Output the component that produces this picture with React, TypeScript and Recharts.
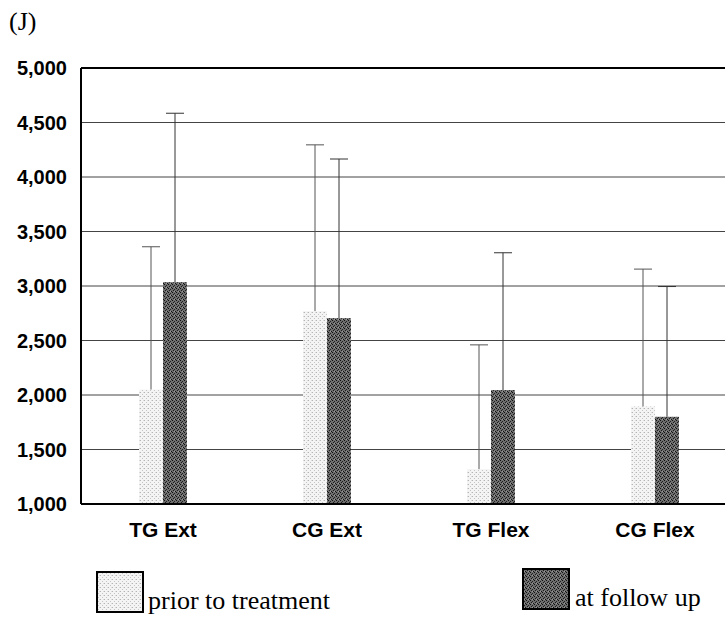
import { BarChart, Bar, XAxis, YAxis, CartesianGrid, ReferenceLine } from 'recharts'

const categories = ['TG Ext', 'CG Ext', 'TG Flex', 'CG Flex']
const priorValues = [2050, 2770, 1320, 1895]
const priorUpper = [3360, 4295, 2460, 3155]
const followUpValues = [3035, 2705, 2045, 1800]
const followUpUpper = [4585, 4165, 3305, 2995]
const yTicks = [1000, 1500, 2000, 2500, 3000, 3500, 4000, 4500, 5000]
const yMin = 1000

const data = categories.map((name, i) => ({
  name,
  prior: priorValues[i],
  priorUp: priorUpper[i],
  followUp: followUpValues[i],
  followUpUp: followUpUpper[i],
}))

const sans = "'Liberation Sans', Arial, sans-serif"
const serif = "'Liberation Serif', 'DejaVu Serif', serif"

function Patterns({ prefix }: { prefix: string }) {
  return (
    <defs>
      <pattern id={`${prefix}light`} width="4" height="4" patternUnits="userSpaceOnUse">
        <rect width="4" height="4" fill="#f4f4f4" />
        <rect x="0" y="0" width="1" height="1" fill="#b4b4b4" />
        <rect x="2" y="2" width="1" height="1" fill="#c4c4c4" />
        <rect x="3" y="0" width="1" height="1" fill="#dcdcdc" />
      </pattern>
      <pattern id={`${prefix}dark`} width="4" height="4" patternUnits="userSpaceOnUse">
        <rect width="4" height="4" fill="#6e6e6e" />
        <rect x="0" y="0" width="1" height="1" fill="#111" />
        <rect x="2" y="1" width="1" height="1" fill="#222" />
        <rect x="1" y="2" width="1" height="1" fill="#1a1a1a" />
        <rect x="3" y="3" width="1" height="1" fill="#111" />
        <rect x="2" y="3" width="1" height="1" fill="#9a9a9a" />
      </pattern>
    </defs>
  )
}

// bar plus an upper-only whisker; the whisker length uses the bar's own px/unit
function makeShape(valueKey: string, upperKey: string, fill: string, whisker: string) {
  return (props: any) => {
    const { x, y, width, height, payload } = props
    const value = payload[valueKey]
    const upper = payload[upperKey]
    const pxPerUnit = height / (value - yMin)
    const yTop = y - (upper - value) * pxPerUnit
    const cx = x + width / 2
    return (
      <g>
        <rect x={x} y={y} width={width} height={height} fill={fill} />
        <line x1={cx} y1={y} x2={cx} y2={yTop} stroke={whisker} strokeWidth={1} />
        <line x1={cx - 9} y1={yTop} x2={cx + 9} y2={yTop} stroke={whisker} strokeWidth={1} />
      </g>
    )
  }
}

function Swatch({ kind }: { kind: 'light' | 'dark' }) {
  return (
    <svg width="48" height="42" style={{ display: 'block' }}>
      <Patterns prefix="lg-" />
      <rect x="1" y="1" width="46" height="40" fill={`url(#lg-${kind})`} stroke="#000" strokeWidth="2" />
    </svg>
  )
}

export default function App() {
  return (
    <div style={{ position: 'absolute', left: 0, top: 0, width: 725, height: 617, overflow: 'hidden', background: '#fff' }}>
      <div style={{ position: 'absolute', left: 9, top: 7, fontFamily: serif, fontSize: 26, lineHeight: '30px' }}>(J)</div>

      <BarChart
        width={745}
        height={617}
        data={data}
        margin={{ top: 68, right: 8, left: 0, bottom: 73 }}
        barSize={24}
        barGap={0}
      >
        <Patterns prefix="" />
        <CartesianGrid vertical={false} stroke="#444" />
        <XAxis
          dataKey="name"
          height={40}
          axisLine={{ stroke: '#000', strokeWidth: 2 }}
          tickLine={false}
          tickSize={0}
          tickMargin={18}
          tick={{ fontFamily: sans, fontSize: 21, fontWeight: 'bold', fill: '#000' }}
        />
        <YAxis
          width={81}
          domain={[yMin, 5000]}
          ticks={yTicks}
          interval={0}
          axisLine={{ stroke: '#000', strokeWidth: 2 }}
          tickLine={false}
          tickSize={0}
          tickMargin={14}
          tickFormatter={v => Number(v).toLocaleString('en-US')}
          tick={{ fontFamily: sans, fontSize: 20, fontWeight: 'bold', fill: '#000' }}
        />
        <ReferenceLine y={5000} stroke="#000" strokeWidth={2} />
        <Bar dataKey="prior" isAnimationActive={false} shape={makeShape('prior', 'priorUp', 'url(#light)', '#555')} />
        <Bar dataKey="followUp" isAnimationActive={false} shape={makeShape('followUp', 'followUpUp', 'url(#dark)', '#333')} />
      </BarChart>

      <div style={{ position: 'absolute', left: 96, top: 571, display: 'flex', alignItems: 'flex-end' }}>
        <Swatch kind="light" />
        <span style={{ fontFamily: serif, fontSize: 26, lineHeight: '24px', marginLeft: 4 }}>prior to treatment</span>
      </div>
      <div style={{ position: 'absolute', left: 522, top: 568, display: 'flex', alignItems: 'flex-end' }}>
        <Swatch kind="dark" />
        <span style={{ fontFamily: serif, fontSize: 26, lineHeight: '24px', marginLeft: 5 }}>at follow up</span>
      </div>
    </div>
  )
}
